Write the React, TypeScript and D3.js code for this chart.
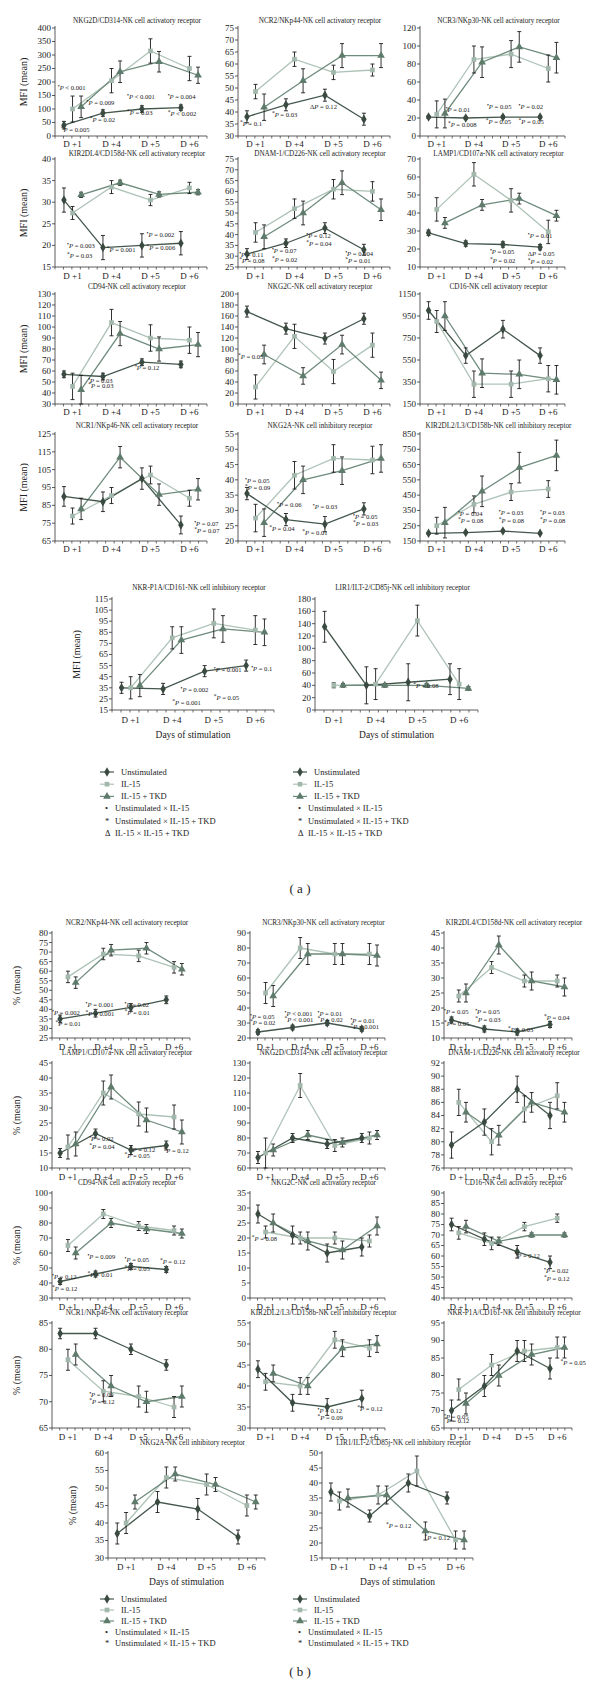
import React from "react";
import * as d3 from "d3";

const days = ["D +1", "D +4", "D +5", "D +6"];
const seriesNames = ["Unstimulated", "IL-15", "IL-15 + TKD"];
const noteLegend = [
  ["•", "Unstimulated × IL-15"],
  ["*", "Unstimulated × IL-15 + TKD"],
  ["Δ", "IL-15 × IL-15 + TKD"],
];

type Note = [string, string, number, number];
type P = { title: string; ticks: number[]; u: number[]; ue: number[]; i: number[]; ie: number[]; t: number[]; te: number[]; notes: Note[] };

// ---------- (a) MFI ----------
const a1: P = { title: "NKG2D/CD314-NK cell activatory receptor", ticks: d3.range(0, 401, 50),
  u: [40, 85, 100, 105], ue: [14, 12, 12, 10], i: [100, 205, 315, 250], ie: [48, 45, 45, 45], t: [108, 238, 275, 225], te: [40, 40, 38, 30],
  notes: [["•", "P < 0.001", -0.38, 170], ["•", "P = 0.009", 0.36, 115], ["*", "P = 0.02", 0.44, 52], ["*", "P = 0.005", -0.3, 15], ["•", "P < 0.001", 1.4, 137], ["*", "P = 0.03", 1.4, 78], ["•", "P = 0.004", 2.44, 137], ["*", "P < 0.002", 2.44, 74]] };
const a2: P = { title: "NCR2/NKp44-NK cell activatory receptor", ticks: d3.range(30, 76, 5),
  u: [38, 43, 47, 37], ue: [2.5, 2.5, 2.5, 2.5], i: [48.5, 62, 56.5, 57.5], ie: [3, 3, 3, 2.5], t: [42, 53, 63.5, 63.5], te: [5.5, 5, 5, 5],
  notes: [["*", "P = 0.1", -0.4, 34.2], ["*", "P = 0.03", 0.42, 37.9], ["Δ", "P = 0.12", 1.4, 42]] };
const a3: P = { title: "NCR3/NKp30-NK cell activatory receptor", ticks: d3.range(0, 121, 20),
  u: [21, 20, 21, 21], ue: [1.5, 1.5, 1.5, 1.5], i: [24, 85, 91, 75], ie: [15, 15, 15, 15], t: [25, 82, 99, 87], te: [16, 17, 17, 17],
  notes: [["•", "P = 0.01", 0.24, 26.7], ["*", "P = 0.008", 0.3, 10], ["•", "P = 0.05", 1.35, 30], ["*", "P = 0.05", 1.32, 13.3], ["•", "P = 0.02", 2.2, 30], ["*", "P = 0.05", 2.2, 13.3]] };
const a4: P = { title: "KIR2DL4/CD158d-NK cell activatory receptor", ticks: d3.range(15, 41, 5),
  u: [30.5, 19.5, 20, 20.5], ue: [2.8, 2.8, 2.7, 2.7], i: [27.5, 33.5, 30.5, 33.3], ie: [1.5, 1.5, 1.3, 1.3], t: [31.7, 34.5, 31.8, 32.3], te: [0.6, 0.6, 0.6, 0.6],
  notes: [["•", "P = 0.003", -0.14, 19.4], ["*", "P = 0.03", -0.14, 17.1], ["*", "P = 0.001", 0.88, 18.5], ["•", "P = 0.002", 1.9, 22], ["*", "P = 0.006", 1.9, 18.9]] };
const a5: P = { title: "DNAM-1/CD226-NK cell activatory receptor", ticks: d3.range(25, 76, 5),
  u: [31, 36, 43, 33], ue: [2.5, 2, 2.5, 2.5], i: [41, 52, 61, 60], ie: [4.5, 4.5, 4.5, 4.5], t: [39, 50, 64, 51.5], te: [5.5, 5.5, 5.5, 5],
  notes: [["•", "P = 0.11", -0.42, 29.6], ["*", "P = 0.08", -0.42, 26.9], ["•", "P = 0.07", 0.42, 31.5], ["*", "P = 0.02", 0.42, 27.3], ["•", "P = 0.12", 1.3, 38.4], ["*", "P = 0.04", 1.3, 34.7], ["•", "P = 0.004", 2.3, 30], ["*", "P = 0.01", 2.3, 26.9]] };
const a6: P = { title: "LAMP1/CD107a-NK cell activatory receptor", ticks: d3.range(10, 71, 10),
  u: [29, 23, 22.5, 21], ue: [1.5, 1.5, 1.5, 1.5], i: [42, 61.5, 47, 29.5], ie: [6.5, 6.5, 6.5, 6.5], t: [34.5, 44.5, 48, 38.5], te: [3, 3, 3, 3],
  notes: [["•", "P = 0.01", 2.45, 26], ["•", "P = 0.05", 1.43, 17.2], ["*", "P = 0.02", 1.43, 12.2], ["Δ", "P = 0.05", 2.45, 17.2], ["*", "P = 0.02", 2.45, 11.7]] };
const a7: P = { title: "CD94-NK cell activatory receptor", ticks: d3.range(30, 131, 10),
  u: [57, 55, 68, 66], ue: [3, 3, 3, 3], i: [46, 104, 90, 88], ie: [12, 12, 12, 12], t: [43, 94, 80, 84], te: [13, 11, 11, 11],
  notes: [["•", "P = 0.12", 1.6, 61], ["•", "P = 0.03", 0.4, 49], ["*", "P = 0.03", 0.4, 44.5]] };
const a8: P = { title: "NKG2C-NK cell activatory receptor", ticks: d3.range(0, 201, 20),
  u: [168, 137, 119, 155], ue: [10, 10, 10, 10], i: [31, 123, 59, 107], ie: [22, 22, 22, 22], t: [90, 51, 108, 43], te: [17, 15, 17, 15],
  notes: [["*", "P = 0.05", -0.45, 82.6]] };
const a9: P = { title: "CD16-NK cell activatory receptor", ticks: d3.range(150, 1151, 200),
  u: [1000, 590, 830, 590], ue: [80, 70, 80, 70], i: [900, 330, 330, 380], ie: [100, 120, 120, 120], t: [950, 430, 420, 370], te: [130, 130, 130, 130],
  notes: [] };
const a10: P = { title: "NCR1/NKp46-NK cell activatory receptor", ticks: d3.range(65, 126, 10),
  u: [90, 87, 100, 74], ue: [5.5, 5.5, 6, 5], i: [79, 90.5, 102, 89], ie: [4.5, 4.5, 5, 4.5], t: [83, 112, 91, 94], te: [6, 6, 6, 6],
  notes: [["•", "P = 0.07", 3.12, 73.2], ["*", "P = 0.07", 3.12, 69.7]] };
const a11: P = { title: "NKG2A-NK cell inhibitory receptor", ticks: d3.range(20, 56, 5),
  u: [35.5, 27, 25.5, 30.5], ue: [2, 2, 2.5, 2], i: [27.5, 41.5, 47, 46.5], ie: [4.5, 4.5, 4.5, 4.5], t: [26, 40, 43, 47], te: [4.5, 4.5, 4.5, 4.5],
  notes: [["•", "P = 0.05", -0.27, 39], ["*", "P = 0.09", -0.27, 36.7], ["•", "P = 0.06", 0.55, 31.1], ["•", "P = 0.03", 1.47, 30.5], ["•", "P = 0.05", 2.5, 27.2], ["*", "P = 0.03", 2.5, 24.9], ["*", "P = 0.04", 0.35, 23.2], ["*", "P = 0.01", 1.2, 22]] };
const a12: P = { title: "KIR2DL2/L3/CD158b-NK cell inhibitory receptor", ticks: d3.range(150, 851, 100),
  u: [200, 205, 215, 200], ue: [6, 6, 6, 6], i: [250, 390, 470, 490], ie: [55, 55, 55, 55], t: [270, 475, 630, 710], te: [100, 100, 100, 100],
  notes: [["•", "P = 0.04", 0.57, 313], ["*", "P = 0.08", 0.57, 268], ["•", "P = 0.03", 1.67, 320], ["*", "P = 0.08", 1.67, 268], ["•", "P = 0.03", 2.78, 320], ["*", "P = 0.08", 2.78, 268]] };
const a13: P = { title: "NKR-P1A/CD161-NK cell inhibitory receptor", ticks: d3.range(15, 116, 10),
  u: [35, 34, 50, 55], ue: [5, 5, 5, 5], i: [35, 80, 93, 87], ie: [10, 10, 13, 13], t: [37, 78, 88, 85], te: [10, 12, 12, 12],
  notes: [["•", "P = 0.001", 2.0, 49], ["•", "P = 0.1", 2.9, 50], ["•", "P = 0.002", 1.2, 31], ["*", "P = 0.05", 2.0, 24], ["*", "P = 0.001", 1.0, 19.5]] };
const a14: P = { title: "LIR1/ILT-2/CD85j-NK cell inhibitory receptor", ticks: d3.range(0, 181, 20),
  u: [135, 40, 45, 50], ue: [25, 30, 30, 25], i: [40, 42, 145, 42], ie: [4, 25, 25, 25], t: [40, 40, 40, 35], te: [3, 3, 3, 3],
  notes: [["*", "P = 0.08", 1.9, 36]] };

// ---------- (b) % ----------
const b1: P = { title: "NCR2/NKp44-NK cell activatory receptor", ticks: d3.range(25, 81, 5),
  u: [35, 38, 41, 45], ue: [2, 2, 2, 2], i: [57, 69, 68, 62], ie: [3, 3, 3, 3], t: [54, 71, 72, 61], te: [3, 3, 3, 3],
  notes: [["*", "P = 0.01", -0.35, 31.5], ["•", "P = 0.002", -0.45, 37], ["•", "P = 0.001", 0.5, 41], ["*", "P = 0.001", 0.5, 36.5], ["•", "P = 0.02", 1.6, 41], ["*", "P = 0.01", 1.6, 37]] };
const b2: P = { title: "NCR3/NKp30-NK cell activatory receptor", ticks: d3.range(20, 91, 10),
  u: [24, 27, 30, 26], ue: [1.5, 1.5, 1.5, 1.5], i: [50, 80, 76, 76], ie: [7, 7, 7, 7], t: [48, 76, 76, 75], te: [7, 7, 7, 7],
  notes: [["•", "P = 0.05", -0.45, 33], ["*", "P = 0.02", -0.45, 29], ["•", "P < 0.001", 0.55, 35], ["*", "P < 0.001", 0.55, 31], ["•", "P = 0.01", 1.5, 35], ["*", "P = 0.02", 1.5, 31], ["•", "P = 0.01", 2.45, 30], ["*", "P < 0.001", 2.45, 26]] };
const b3: P = { title: "KIR2DL4/CD158d-NK cell activatory receptor", ticks: d3.range(10, 46, 5),
  u: [16, 13, 12, 14.5], ue: [1, 1, 1, 1], i: [24, 33.5, 29, 29], ie: [2, 2, 2, 2], t: [25, 41, 29, 27], te: [3, 3, 3, 3],
  notes: [["•", "P = 0.05", -0.45, 18], ["*", "P = 0.05", -0.45, 14], ["•", "P = 0.05", 0.5, 18], ["*", "P = 0.03", 0.5, 15.5], ["*", "P = 0.03", 1.5, 12], ["*", "P = 0.04", 2.6, 16]] };
const b4: P = { title: "LAMP1/CD107a-NK cell activatory receptor", ticks: d3.range(10, 46, 5),
  u: [15, 21.5, 16, 17.5], ue: [1.5, 1.5, 1.5, 1.5], i: [17, 35, 28, 27], ie: [4, 4, 4, 4], t: [18, 37, 26, 22], te: [4, 4, 4, 4],
  notes: [["•", "P = 0.02", 0.6, 19], ["*", "P = 0.04", 0.6, 16.5], ["*", "P = 0.12", 1.75, 15.5], ["*", "P = 0.05", 1.6, 13.5], ["*", "P = 0.12", 2.7, 15]] };
const b5: P = { title: "NKG2D/CD314-NK cell activatory receptor", ticks: d3.range(60, 131, 10),
  u: [67, 80, 76, 80], ue: [4, 3, 3, 3], i: [70, 115, 75, 80], ie: [10, 8, 4, 4], t: [72, 82, 77, 82], te: [4, 3, 3, 3],
  notes: [] };
const b6: P = { title: "DNAM-1/CD226-NK cell activatory receptor", ticks: d3.range(76, 93, 2),
  u: [79.5, 83, 88, 84], ue: [2, 2, 2, 2], i: [86, 80, 85, 87], ie: [2, 2, 2, 2], t: [84.5, 81, 86, 84.5], te: [1.5, 1.5, 1.5, 1.5],
  notes: [] };
const b7: P = { title: "CD94-NK cell activatory receptor", ticks: d3.range(30, 101, 10),
  u: [41, 46, 51, 49], ue: [2, 2, 2, 2], i: [65, 86, 78, 75], ie: [4, 3, 3, 3], t: [60, 80, 76, 73], te: [4, 3, 3, 3],
  notes: [["•", "P = 0.12", -0.45, 43], ["*", "P = 0.12", -0.45, 35], ["•", "P = 0.009", 0.55, 56], ["*", "P = 0.01", 0.55, 44], ["•", "P = 0.05", 1.6, 54], ["*", "P = 0.05", 1.6, 48], ["*", "P = 0.12", 2.6, 53]] };
const b8: P = { title: "NKG2C-NK cell activatory receptor", ticks: d3.range(0, 36, 5),
  u: [28, 21, 15, 17], ue: [3, 3, 3, 3], i: [22, 20, 20, 19], ie: [2, 2, 2, 2], t: [25, 19, 16, 24], te: [3, 3, 3, 3],
  notes: [["*", "P = 0.08", -0.4, 19]] };
const b9: P = { title: "CD16-NK cell activatory receptor", ticks: d3.range(40, 91, 5),
  u: [75, 68, 62, 57], ue: [3, 3, 3, 3], i: [71, 66, 74, 78], ie: [3, 3, 2, 2], t: [74, 67, 70, 70], te: [3, 2, 1, 1],
  notes: [["*", "P = 0.12", 1.7, 59], ["•", "P = 0.02", 2.6, 52], ["*", "P = 0.12", 2.6, 48]] };
const b10: P = { title: "NCR1/NKp46-NK cell activatory receptor", ticks: d3.range(65, 86, 5),
  u: [83, 83, 80, 77], ue: [1, 1, 1, 1], i: [78, 72, 71, 69], ie: [2, 2, 2, 2], t: [79, 73, 70, 71], te: [2, 2, 2, 2],
  notes: [["•", "P = 0.09", 0.6, 71], ["*", "P = 0.12", 0.6, 69.5]] };
const b11: P = { title: "KIR2DL2/L3/CD158b-NK cell inhibitory receptor", ticks: d3.range(30, 56, 5),
  u: [44, 36, 35, 37], ue: [2, 2, 2, 2], i: [41, 40, 51, 49], ie: [2, 2, 2, 2], t: [43, 40, 49, 50], te: [2, 2, 2, 2],
  notes: [["•", "P = 0.12", 1.5, 33.5], ["*", "P = 0.09", 1.5, 32], ["*", "P = 0.12", 2.65, 34]] };
const b12: P = { title: "NKR-P1A/CD161-NK cell inhibitory receptor", ticks: d3.range(65, 96, 5),
  u: [70, 77, 87, 82], ue: [3, 3, 3, 3], i: [76, 83, 87, 88], ie: [3, 3, 3, 3], t: [72, 80, 86, 88], te: [3, 3, 3, 3],
  notes: [["•", "P = 0.05", -0.45, 67.5], ["*", "P = 0.12", -0.45, 66.3], ["*", "P = 0.05", 3.1, 83]] };
const b13: P = { title: "NKG2A-NK cell inhibitory receptor", ticks: d3.range(30, 61, 5),
  u: [37, 46, 44, 36], ue: [3, 3, 3, 2], i: [40, 53, 51, 45], ie: [3, 3, 3, 3], t: [46, 54, 51, 46], te: [2, 2, 2, 2],
  notes: [] };
const b14: P = { title: "LIR1/ILT-2/CD85j-NK cell inhibitory receptor", ticks: d3.range(15, 51, 5),
  u: [37, 29, 40, 35], ue: [3, 2, 3, 2], i: [34, 36, 44, 21], ie: [3, 3, 5, 3], t: [35, 36, 24, 21], te: [3, 3, 3, 3],
  notes: [["*", "P = 0.12", 1.2, 25], ["*", "P = 0.12", 2.2, 21]] };

// ---------- styles / layout ----------
const FONT = "Liberation Serif, DejaVu Serif, serif";
const colors = ["#44574c", "#aec3b7", "#6e8b7c"];
const markColors = ["#3a4a41", "#a3b8ac", "#5f7b6c"];
const offsets = [-0.22, 0, 0.22];
const shapes = [d3.symbolDiamond, d3.symbolSquare, d3.symbolTriangle];
const shapeSize = [26, 22, 26];

type Box = { x0: number; x1: number; title: number; top: number; bottom: number; lab: number; yLabel?: string; yLabelX?: number };

function Panel({ p, b }: { p: P; b: Box }) {
  const x = d3.scaleLinear().domain([-0.45, 3.45]).range([b.x0, b.x1]);
  const ext = d3.extent(p.ticks) as [number, number];
  const y = d3.scaleLinear().domain(ext).range([b.bottom, b.top]);
  const vals = [p.u, p.i, p.t];
  const errs = [p.ue, p.ie, p.te];
  const line = d3.line<[number, number]>().x((d) => d[0]).y((d) => d[1]);
  const pts = vals.map((v, s) => v.map((val, k) => [x(k + offsets[s]), y(val)] as [number, number]));
  const minor = d3.range(0, 19).map((k) => b.x0 + ((b.x1 - b.x0) * k) / 18);
  const cx = (b.x0 + b.x1) / 2;
  return (
    <g fontFamily={FONT}>
      <text x={cx + 6} y={b.title} fontSize={7.2} textAnchor="middle" fill="#222">{p.title}</text>
      {b.yLabel && (
        <text transform={`translate(${b.yLabelX},${(b.top + b.bottom) / 2}) rotate(-90)`} fontSize={10} textAnchor="middle" fill="#222">{b.yLabel}</text>
      )}
      <line x1={b.x0} x2={b.x0} y1={b.top - 2} y2={b.bottom} stroke="#333" strokeWidth={0.8} />
      <line x1={b.x0} x2={b.x1} y1={b.bottom} y2={b.bottom} stroke="#333" strokeWidth={0.8} />
      {p.ticks.map((t) => (
        <g key={t}>
          <line x1={b.x0 - 3} x2={b.x0} y1={y(t)} y2={y(t)} stroke="#333" strokeWidth={0.8} />
          <text x={b.x0 - 4} y={y(t)} dy="0.33em" fontSize={9} textAnchor="end" fill="#222">{t}</text>
        </g>
      ))}
      {minor.map((m, k) => (
        <line key={k} x1={m} x2={m} y1={b.bottom} y2={b.bottom + 2.5} stroke="#333" strokeWidth={0.7} />
      ))}
      {days.map((d, k) => (
        <text key={d} x={x(k)} y={b.lab} fontSize={9} textAnchor="middle" fill="#222">{d}</text>
      ))}
      {[1, 2, 0].map((s) => (
        <path key={"l" + s} d={line(pts[s]) || ""} fill="none" stroke={colors[s]} strokeWidth={1.3} />
      ))}
      {[1, 2, 0].map((s) =>
        vals[s].map((v, k) => {
          const px = x(k + offsets[s]);
          const e = errs[s][k];
          return (
            <g key={"e" + s + k} stroke="#1c1c1c" strokeWidth={0.9}>
              <line x1={px} x2={px} y1={y(v - e)} y2={y(v + e)} />
              <line x1={px - 2} x2={px + 2} y1={y(v - e)} y2={y(v - e)} />
              <line x1={px - 2} x2={px + 2} y1={y(v + e)} y2={y(v + e)} />
            </g>
          );
        })
      )}
      {[1, 2, 0].map((s) =>
        pts[s].map((pt, k) => (
          <path key={"m" + s + k} transform={`translate(${pt[0]},${pt[1]})`} d={d3.symbol().type(shapes[s]).size(shapeSize[s])() || ""} fill={markColors[s]} />
        ))
      )}
      {p.notes.map((n, k) => (
        <text key={"n" + k} x={x(n[2])} y={y(n[3])} dy="0.33em" fontSize={6.6} fill="#222">
          {n[0] === "Δ" ? <tspan>Δ</tspan> : <tspan fontSize={5.5} dy={-2}>{n[0]}</tspan>}
          <tspan fontStyle="italic" dy={n[0] === "Δ" ? 0 : 2}>P</tspan>
          <tspan>{n[1].slice(1)}</tspan>
        </text>
      ))}
    </g>
  );
}

function Legend({ x, y, step, notes }: { x: number; y: number; step: number; notes: string[][] }) {
  return (
    <g fontFamily={FONT} fontSize={8.5} fill="#222">
      {seriesNames.map((s, k) => (
        <g key={s}>
          <line x1={x - 7} x2={x + 7} y1={y + k * step} y2={y + k * step} stroke={colors[k]} strokeWidth={1.2} />
          <path transform={`translate(${x},${y + k * step})`} d={d3.symbol().type(shapes[k]).size(shapeSize[k])() || ""} fill={markColors[k]} />
          <text x={x + 14} y={y + k * step} dy="0.33em">{s}</text>
        </g>
      ))}
      {notes.map((n, k) => (
        <g key={n[1]}>
          <text x={x - 2} y={y + (k + 3) * step} dy="0.33em">{n[0]}</text>
          <text x={x + 8} y={y + (k + 3) * step} dy="0.33em">{n[1]}</text>
        </g>
      ))}
    </g>
  );
}

const aRows = [
  { title: 23, top: 28, bottom: 136, lab: 147 },
  { title: 156, top: 159, bottom: 267, lab: 279 },
  { title: 289, top: 294, bottom: 404, lab: 415 },
  { title: 428, top: 434, bottom: 541, lab: 552 },
  { title: 590, top: 599, bottom: 710, lab: 723 },
];
const aCols = [[55, 207], [238, 390], [420, 565]];
const aRow5 = [[112, 274], [315, 478]];
const bT = [925, 1055, 1185, 1315, 1445];
const bRows = bT.map((t) => ({ title: t, top: t + 8, bottom: t + 113, lab: t + 125 }));
const bCols = [[52, 190], [250, 385], [444, 572]];
const bRow5 = [[108, 265], [322, 473]];

const aGrid = [[a1, a2, a3], [a4, a5, a6], [a7, a8, a9], [a10, a11, a12], [a13, a14]];
const bGrid = [[b1, b2, b3], [b4, b5, b6], [b7, b8, b9], [b10, b11, b12], [b13, b14]];

export default function App() {
  const panels: JSX.Element[] = [];
  aGrid.forEach((row, r) => {
    row.forEach((p, c) => {
      const cols = r === 4 ? aRow5 : aCols;
      const box: Box = { ...aRows[r], x0: cols[c][0], x1: cols[c][1] };
      if (c === 0) { box.yLabel = "MFI (mean)"; box.yLabelX = r === 4 ? 80 : 27; }
      panels.push(<Panel key={"a" + r + c} p={p} b={box} />);
    });
  });
  bGrid.forEach((row, r) => {
    row.forEach((p, c) => {
      const cols = r === 4 ? bRow5 : bCols;
      const box: Box = { ...bRows[r], x0: cols[c][0], x1: cols[c][1] };
      if (c === 0) { box.yLabel = "% (mean)"; box.yLabelX = r === 4 ? 76 : 20; }
      panels.push(<Panel key={"b" + r + c} p={p} b={box} />);
    });
  });
  const aDays = aRows[4].lab + 15;
  const bDays = bRows[4].lab + 15;
  return (
    <svg width={600} height={1685} style={{ position: "absolute", left: 0, top: 0, background: "#fff" }}>
      <rect width={600} height={1685} fill="#fff" />
      {panels}
      {aRow5.map((c, k) => (
        <text key={"ad" + k} x={(c[0] + c[1]) / 2} y={aDays} fontFamily={FONT} fontSize={9.5} textAnchor="middle" fill="#222">Days of stimulation</text>
      ))}
      {bRow5.map((c, k) => (
        <text key={"bd" + k} x={(c[0] + c[1]) / 2} y={bDays} fontFamily={FONT} fontSize={9.5} textAnchor="middle" fill="#222">Days of stimulation</text>
      ))}
      <Legend x={107} y={772} step={12.2} notes={noteLegend} />
      <Legend x={300} y={772} step={12.2} notes={noteLegend} />
      <Legend x={107} y={bDays + 14} step={11} notes={noteLegend.slice(0, 2)} />
      <Legend x={300} y={bDays + 14} step={11} notes={noteLegend.slice(0, 2)} />
      <text x={300} y={893} fontFamily={FONT} fontSize={13} textAnchor="middle" fill="#222">( a )</text>
      <text x={300} y={1676} fontFamily={FONT} fontSize={13} textAnchor="middle" fill="#222">( b )</text>
    </svg>
  );
}
